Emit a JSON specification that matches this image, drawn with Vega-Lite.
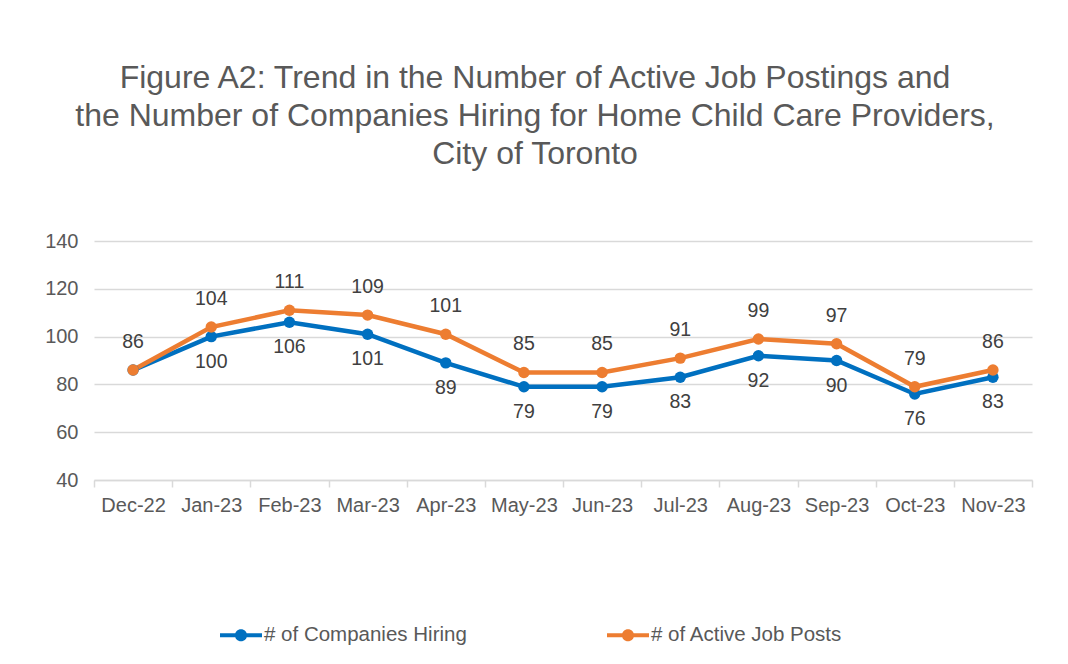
{
  "$schema": "https://vega.github.io/schema/vega-lite/v6.json",
  "width": 938,
  "height": 239,
  "autosize": {"type": "none"},
  "padding": {"left": 94, "top": 241, "right": 36, "bottom": 184},
  "background": "#ffffff",
  "title": {
    "text": ["Figure A2: Trend in the Number of Active Job Postings and", "the Number of Companies Hiring for Home Child Care Providers,", "City of Toronto"],
    "anchor": "middle",
    "frame": "group",
    "dx": -28,
    "offset": 60,
    "font": "Liberation Sans",
    "fontSize": 32,
    "fontWeight": "normal",
    "color": "#595959",
    "lineHeight": 38
  },
  "config": {
    "view": {"stroke": null},
    "font": "Liberation Sans"
  },
  "data": {
    "values": [
      {"month": "Dec-22", "series": "# of Companies Hiring", "value": 86},
      {"month": "Jan-23", "series": "# of Companies Hiring", "value": 100},
      {"month": "Feb-23", "series": "# of Companies Hiring", "value": 106},
      {"month": "Mar-23", "series": "# of Companies Hiring", "value": 101},
      {"month": "Apr-23", "series": "# of Companies Hiring", "value": 89},
      {"month": "May-23", "series": "# of Companies Hiring", "value": 79},
      {"month": "Jun-23", "series": "# of Companies Hiring", "value": 79},
      {"month": "Jul-23", "series": "# of Companies Hiring", "value": 83},
      {"month": "Aug-23", "series": "# of Companies Hiring", "value": 92},
      {"month": "Sep-23", "series": "# of Companies Hiring", "value": 90},
      {"month": "Oct-23", "series": "# of Companies Hiring", "value": 76},
      {"month": "Nov-23", "series": "# of Companies Hiring", "value": 83},
      {"month": "Dec-22", "series": "# of Active Job Posts", "value": 86},
      {"month": "Jan-23", "series": "# of Active Job Posts", "value": 104},
      {"month": "Feb-23", "series": "# of Active Job Posts", "value": 111},
      {"month": "Mar-23", "series": "# of Active Job Posts", "value": 109},
      {"month": "Apr-23", "series": "# of Active Job Posts", "value": 101},
      {"month": "May-23", "series": "# of Active Job Posts", "value": 85},
      {"month": "Jun-23", "series": "# of Active Job Posts", "value": 85},
      {"month": "Jul-23", "series": "# of Active Job Posts", "value": 91},
      {"month": "Aug-23", "series": "# of Active Job Posts", "value": 99},
      {"month": "Sep-23", "series": "# of Active Job Posts", "value": 97},
      {"month": "Oct-23", "series": "# of Active Job Posts", "value": 79},
      {"month": "Nov-23", "series": "# of Active Job Posts", "value": 86}
    ]
  },
  "encoding": {
    "x": {
      "field": "month",
      "type": "ordinal",
      "sort": null,
      "scale": {"type": "band", "paddingInner": 0, "paddingOuter": 0},
      "axis": {
        "title": null,
        "labelAngle": 0,
        "labelFontSize": 20,
        "labelColor": "#595959",
        "labelFont": "Liberation Sans",
        "labelPadding": 8,
        "domainColor": "#d9d9d9",
        "domainWidth": 1.5,
        "tickColor": "#d9d9d9",
        "tickWidth": 1.5,
        "tickSize": 7,
        "tickBand": "extent",
        "grid": false
      }
    },
    "y": {
      "field": "value",
      "type": "quantitative",
      "scale": {"domain": [40, 140], "nice": false, "zero": false},
      "axis": {
        "title": null,
        "values": [40, 60, 80, 100, 120, 140],
        "labelFontSize": 20,
        "labelColor": "#595959",
        "labelFont": "Liberation Sans",
        "labelPadding": 16,
        "domain": false,
        "ticks": false,
        "gridColor": "#d9d9d9",
        "gridWidth": 1.5
      }
    },
    "color": {
      "field": "series",
      "type": "nominal",
      "scale": {"domain": ["# of Companies Hiring", "# of Active Job Posts"], "range": ["#0070c0", "#ed7d31"]},
      "legend": {
        "title": null,
        "orient": "none",
        "direction": "horizontal",
        "legendX": 126,
        "legendY": 373,
        "symbolType": "M-1,-0.1H1V0.1H-1Z M0.29,0A0.29,0.29 0 1,1 -0.29,0A0.29,0.29 0 1,1 0.29,0Z",
        "symbolSize": 1764,
        "symbolStrokeWidth": 0,
        "symbolOpacity": 1,
        "labelFontSize": 20.5,
        "labelColor": "#595959",
        "labelFont": "Liberation Sans",
        "labelLimit": 400,
        "labelOffset": 2,
        "columnPadding": 140
      }
    }
  },
  "layer": [
    {
      "mark": {"type": "line", "strokeWidth": 4.5}
    },
    {
      "mark": {"type": "point", "filled": true, "size": 130, "opacity": 1}
    },
    {
      "transform": [{"filter": "datum.series === '# of Active Job Posts'"}],
      "mark": {"type": "text", "dy": -28, "fontSize": 19.5, "font": "Liberation Sans"},
      "encoding": {
        "text": {"field": "value", "type": "quantitative"},
        "color": {"value": "#404040"}
      }
    },
    {
      "transform": [{"filter": "datum.series === '# of Companies Hiring' && datum.month !== 'Dec-22'"}],
      "mark": {"type": "text", "dy": 25, "fontSize": 19.5, "font": "Liberation Sans"},
      "encoding": {
        "text": {"field": "value", "type": "quantitative"},
        "color": {"value": "#404040"}
      }
    }
  ]
}
